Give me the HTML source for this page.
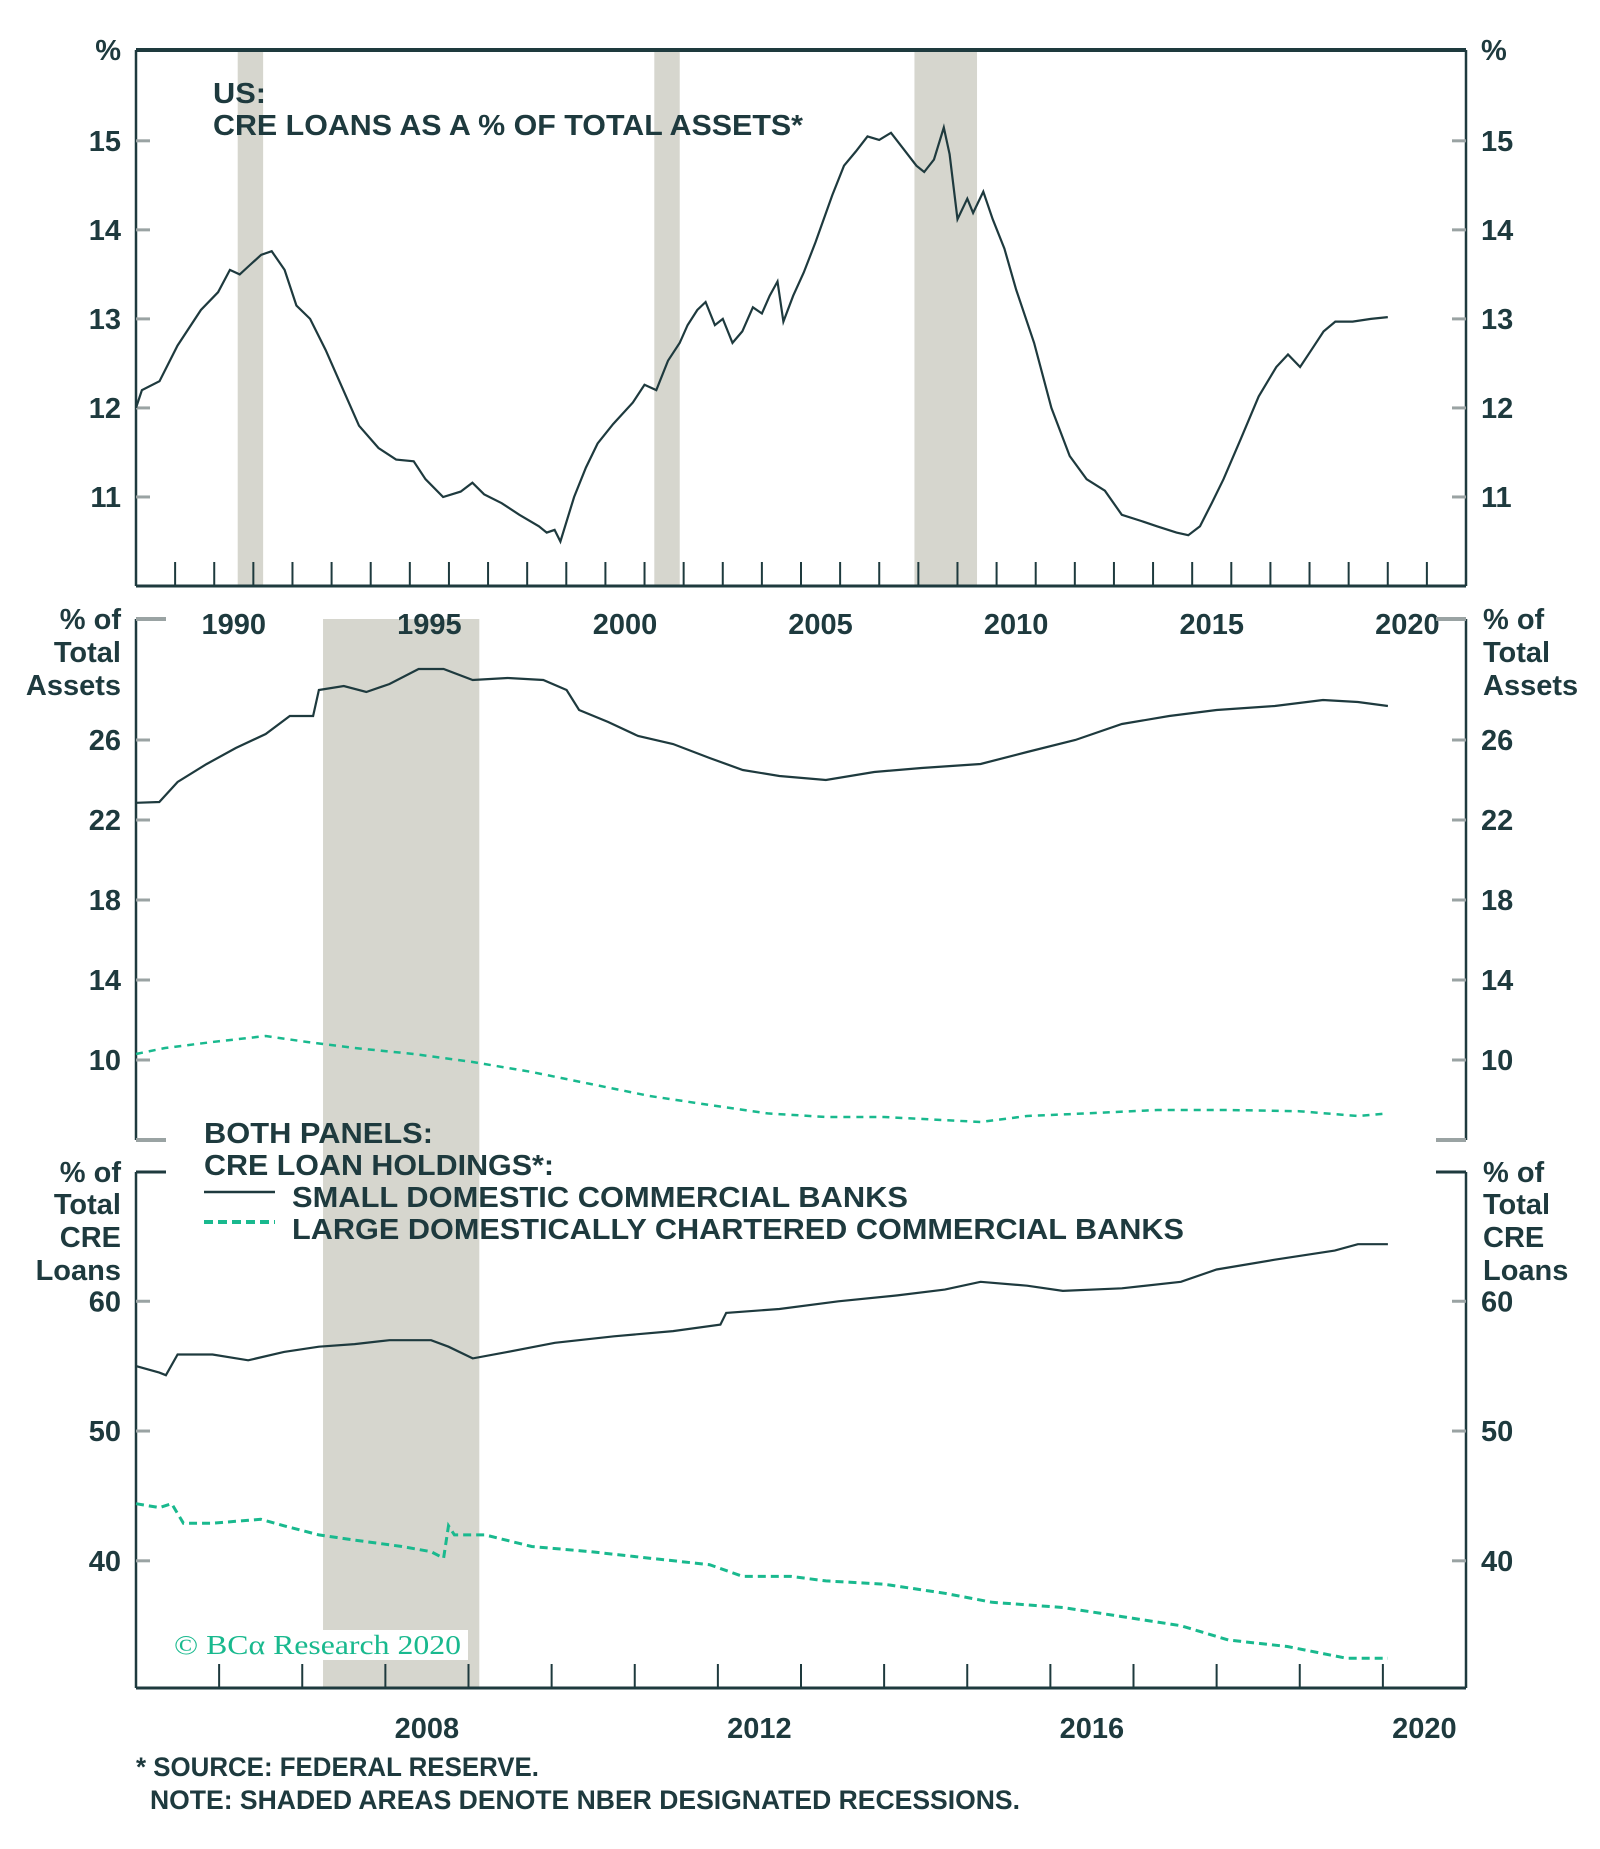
<!DOCTYPE html>
<html><head><meta charset="utf-8"><style>
html,body{margin:0;padding:0;background:#fff;}
svg{display:block;font-family:"Liberation Sans",sans-serif;}
.t{font-weight:bold;fill:#1e3a3e;}
</style></head><body>
<svg id="c" width="1600" height="1849" viewBox="0 0 1600 1849"></svg>
<script>
// ---- data ----
const topYears=[1988.0,1988.15,1988.6,1989.06,1989.66,1990.1,1990.4,1990.65,1990.9,1991.2,1991.47,1991.8,1992.1,1992.45,1992.85,1993.3,1993.7,1994.2,1994.65,1995.1,1995.4,1995.85,1996.3,1996.6,1996.9,1997.35,1997.8,1998.3,1998.5,1998.7,1998.85,1999.2,1999.5,1999.8,2000.2,2000.7,2001.0,2001.3,2001.6,2001.9,2002.1,2002.35,2002.56,2002.8,2003.0,2003.25,2003.5,2003.77,2004.0,2004.2,2004.4,2004.55,2004.8,2005.07,2005.37,2005.8,2006.1,2006.4,2006.7,2007.0,2007.3,2007.6,2007.95,2008.15,2008.4,2008.65,2008.8,2009.0,2009.25,2009.4,2009.66,2009.9,2010.2,2010.5,2010.96,2011.4,2011.87,2012.3,2012.77,2013.2,2013.7,2014.1,2014.6,2014.9,2015.2,2015.5,2015.8,2016.25,2016.7,2017.15,2017.45,2017.76,2018.06,2018.36,2018.66,2019.1,2019.57,2020.0];
const topVals=[12.0,12.2,12.3,12.7,13.1,13.3,13.55,13.5,13.6,13.72,13.76,13.55,13.15,13.0,12.65,12.2,11.8,11.55,11.42,11.4,11.2,11.0,11.06,11.16,11.03,10.93,10.8,10.67,10.6,10.63,10.5,11.0,11.33,11.6,11.82,12.06,12.26,12.2,12.53,12.73,12.93,13.1,13.19,12.93,13.0,12.73,12.86,13.13,13.06,13.26,13.42,12.97,13.26,13.52,13.86,14.39,14.72,14.88,15.05,15.01,15.09,14.92,14.72,14.65,14.79,15.15,14.85,14.12,14.35,14.19,14.43,14.12,13.79,13.33,12.73,12.0,11.46,11.2,11.07,10.8,10.73,10.67,10.6,10.57,10.67,10.93,11.2,11.66,12.13,12.46,12.6,12.46,12.66,12.86,12.97,12.97,13.0,13.02];
const midSmallYears=[2005.0,2005.28,2005.5,2005.85,2006.2,2006.56,2006.85,2007.13,2007.2,2007.5,2007.77,2008.05,2008.4,2008.7,2009.05,2009.47,2009.9,2010.18,2010.33,2010.68,2011.04,2011.46,2011.9,2012.3,2012.74,2013.3,2013.88,2014.45,2015.16,2015.72,2016.3,2016.86,2017.43,2018.0,2018.7,2019.28,2019.7,2020.06];
const midSmallVals=[22.86,22.9,23.9,24.8,25.6,26.3,27.2,27.2,28.5,28.7,28.4,28.8,29.55,29.55,29.0,29.1,29.0,28.5,27.5,26.9,26.2,25.8,25.1,24.5,24.2,24.0,24.4,24.6,24.8,25.4,26.0,26.8,27.2,27.5,27.7,28.0,27.9,27.7];
const midLargeYears=[2005.0,2005.35,2005.92,2006.56,2007.06,2007.63,2008.34,2009.05,2009.76,2010.47,2011.18,2011.9,2012.6,2013.3,2014.0,2014.7,2015.16,2015.72,2016.43,2017.29,2018.14,2018.99,2019.7,2020.06];
const midLargeVals=[10.3,10.6,10.9,11.2,10.9,10.6,10.3,9.9,9.4,8.8,8.2,7.75,7.33,7.15,7.15,7.0,6.9,7.2,7.33,7.5,7.5,7.44,7.2,7.33];
const botSmallYears=[2005.0,2005.28,2005.36,2005.5,2005.92,2006.35,2006.78,2007.2,2007.63,2008.05,2008.55,2008.76,2009.05,2009.47,2010.04,2010.75,2011.46,2012.03,2012.1,2012.74,2013.45,2014.16,2014.73,2015.16,2015.72,2016.15,2016.86,2017.57,2018.0,2018.7,2019.42,2019.7,2020.06];
const botSmallVals=[55.0,54.5,54.3,55.9,55.9,55.45,56.1,56.5,56.7,57.0,57.0,56.5,55.6,56.1,56.8,57.3,57.7,58.2,59.1,59.4,60.0,60.45,60.9,61.5,61.2,60.8,61.0,61.5,62.45,63.2,63.9,64.4,64.4];
const botLargeYears=[2005.0,2005.28,2005.43,2005.57,2005.92,2006.5,2006.78,2007.2,2007.63,2008.2,2008.55,2008.7,2008.76,2008.83,2009.2,2009.76,2010.47,2011.18,2011.9,2012.3,2012.88,2013.3,2014.0,2014.73,2015.3,2016.15,2016.86,2017.57,2018.14,2018.85,2019.56,2020.06];
const botLargeVals=[44.4,44.1,44.4,42.9,42.9,43.2,42.7,42.0,41.6,41.1,40.7,40.2,42.7,42.0,42.0,41.1,40.7,40.2,39.7,38.8,38.8,38.45,38.2,37.5,36.8,36.4,35.7,35.0,33.9,33.4,32.5,32.5];
const topRecStart=[1990.6,2001.25,2007.9];
const topRecEnd=[1991.25,2001.9,2009.5];
const botRecStart=[2007.25];
const botRecEnd=[2009.13];
const topYTicks=[11,12,13,14,15];
const midYTicks=[10,14,18,22,26];
const botYTicks=[40,50,60];
const topXLabels=[1990,1995,2000,2005,2010,2015,2020];
const botXLabels=[2008,2012,2016,2020];

// ---- layout ----
const L=136,R=1466;
const NS="http://www.w3.org/2000/svg";
const svg=document.getElementById('c');
function el(tag,attrs,parent){const e=document.createElementNS(NS,tag);for(const k in attrs)e.setAttribute(k,attrs[k]);(parent||svg).appendChild(e);return e;}
function txt(s,x,y,anchor,size,len){const e=el('text',{x:x,y:y,'text-anchor':anchor,'font-size':size,'class':'t'});if(len){e.setAttribute('textLength',len);e.setAttribute('lengthAdjust','spacingAndGlyphs');}e.textContent=s;return e;}
const xTop=v=>L+(v-1988)/(2022-1988)*(R-L);
const yTop=v=>586-(v-10)/(16.02-10)*(586-50);
const xBot=v=>L+(v-2005)/(2021-2005)*(R-L);
const yMid=v=>1140-(v-6)/(32.05-6)*(1140-619);
const yBot=v=>1688-(v-30.2)/(69.96-30.2)*(1688-1172);
const DARK="#1e3a3e",GREEN="#19b98e",SHADE="#d6d6ce",TICK="#9aa3a3";
const FS=29;

// shading
for(let i=0;i<topRecStart.length;i++){
 const r=el('rect',{x:xTop(topRecStart[i]),y:50,width:xTop(topRecEnd[i])-xTop(topRecStart[i]),height:536,fill:SHADE});
 
 
}
for(let i=0;i<botRecStart.length;i++){
 const r=el('rect',{x:xBot(botRecStart[i]),y:619,width:xBot(botRecEnd[i])-xBot(botRecStart[i]),height:1069,fill:SHADE});
 
 
}

// axes top panel
el('line',{x1:L,y1:50,x2:R,y2:50,stroke:DARK,'stroke-width':4});
el('line',{x1:L,y1:586,x2:R,y2:586,stroke:DARK,'stroke-width':3});
el('line',{x1:L,y1:50,x2:L,y2:586,stroke:DARK,'stroke-width':2.5});
el('line',{x1:R,y1:50,x2:R,y2:586,stroke:DARK,'stroke-width':2.5});
for(let yr=1989;yr<=2021;yr++){el('line',{x1:xTop(yr),y1:586,x2:xTop(yr),y2:562,stroke:DARK,'stroke-width':2});}
topYTicks.forEach(v=>{
 el('line',{x1:L,y1:yTop(v),x2:L+14,y2:yTop(v),stroke:TICK,'stroke-width':3});
 el('line',{x1:R-14,y1:yTop(v),x2:R,y2:yTop(v),stroke:TICK,'stroke-width':3});
 const a=txt(String(v),121,yTop(v)+10,'end',FS);
 const b=txt(String(v),1481,yTop(v)+10,'start',FS);
});
txt('%',121,60,'end',FS);txt('%',1481,60,'start',FS);
topXLabels.forEach(v=>{const a=txt(String(v),xTop(v+0.5),634,'middle',FS);});

// mid panel axes
el('line',{x1:L,y1:619,x2:L,y2:1140,stroke:DARK,'stroke-width':2.5});
el('line',{x1:R,y1:619,x2:R,y2:1140,stroke:DARK,'stroke-width':2.5});
el('line',{x1:L,y1:619,x2:L+30,y2:619,stroke:TICK,'stroke-width':4});
el('line',{x1:R-30,y1:619,x2:R,y2:619,stroke:TICK,'stroke-width':4});
el('line',{x1:L,y1:1140,x2:L+30,y2:1140,stroke:TICK,'stroke-width':4});
el('line',{x1:R-30,y1:1140,x2:R,y2:1140,stroke:TICK,'stroke-width':4});
midYTicks.forEach(v=>{
 el('line',{x1:L,y1:yMid(v),x2:L+14,y2:yMid(v),stroke:TICK,'stroke-width':3});
 el('line',{x1:R-14,y1:yMid(v),x2:R,y2:yMid(v),stroke:TICK,'stroke-width':3});
 const a=txt(String(v),121,yMid(v)+10,'end',FS);
 const b=txt(String(v),1481,yMid(v)+10,'start',FS);
});
[['% of',629],['Total',662],['Assets',695]].forEach(p=>{txt(p[0],121,p[1],'end',FS);txt(p[0],1483,p[1],'start',FS);});

// bottom panel axes
el('line',{x1:L,y1:1172,x2:L,y2:1688,stroke:DARK,'stroke-width':2.5});
el('line',{x1:R,y1:1172,x2:R,y2:1688,stroke:DARK,'stroke-width':2.5});
el('line',{x1:L,y1:1172,x2:L+30,y2:1172,stroke:DARK,'stroke-width':3});
el('line',{x1:R-30,y1:1172,x2:R,y2:1172,stroke:DARK,'stroke-width':3});
el('line',{x1:L,y1:1688,x2:R,y2:1688,stroke:DARK,'stroke-width':3});
for(let yr=2006;yr<=2020;yr++){el('line',{x1:xBot(yr),y1:1688,x2:xBot(yr),y2:1664,stroke:DARK,'stroke-width':2});}
botYTicks.forEach(v=>{
 el('line',{x1:L,y1:yBot(v),x2:L+14,y2:yBot(v),stroke:TICK,'stroke-width':3});
 el('line',{x1:R-14,y1:yBot(v),x2:R,y2:yBot(v),stroke:TICK,'stroke-width':3});
 const a=txt(String(v),121,yBot(v)+10,'end',FS);
 const b=txt(String(v),1481,yBot(v)+10,'start',FS);
});
[['% of',1182],['Total',1214],['CRE',1247],['Loans',1280]].forEach(p=>{txt(p[0],121,p[1],'end',FS);txt(p[0],1483,p[1],'start',FS);});
botXLabels.forEach(v=>{const a=txt(String(v),xBot(v+0.5),1738,'middle',FS);});

// series
function path(xs,ys,fx,fy){return xs.map((x,i)=>(i?'L':'M')+fx(x).toFixed(1)+','+fy(ys[i]).toFixed(1)).join('');}
let p;
p=el('path',{d:path(topYears,topVals,xTop,yTop),fill:'none',stroke:DARK,'stroke-width':2.2});


p=el('path',{d:path(midSmallYears,midSmallVals,xBot,yMid),fill:'none',stroke:DARK,'stroke-width':2.2});


p=el('path',{d:path(midLargeYears,midLargeVals,xBot,yMid),fill:'none',stroke:GREEN,'stroke-width':2.5,'stroke-dasharray':'7 6'});


p=el('path',{d:path(botSmallYears,botSmallVals,xBot,yBot),fill:'none',stroke:DARK,'stroke-width':2.2});


p=el('path',{d:path(botLargeYears,botLargeVals,xBot,yBot),fill:'none',stroke:GREEN,'stroke-width':3,'stroke-dasharray':'8 5'});



// titles & legend
txt('US:',213,103,'start',FS,53);
txt('CRE LOANS AS A % OF TOTAL ASSETS*',213,135,'start',FS,590);
txt('BOTH PANELS:',204,1143,'start',FS,229);
txt('CRE LOAN HOLDINGS*:',204,1175,'start',FS,350);
el('line',{x1:204,y1:1192,x2:275,y2:1192,stroke:DARK,'stroke-width':2.5});
txt('SMALL DOMESTIC COMMERCIAL BANKS',292,1207,'start',FS,616);
el('line',{x1:204,y1:1222,x2:275,y2:1222,stroke:GREEN,'stroke-width':4,'stroke-dasharray':'9 5'});
txt('LARGE DOMESTICALLY CHARTERED COMMERCIAL BANKS',292,1239,'start',FS,892);
el('rect',{x:170,y:1630,width:298,height:30,fill:'#fff'});
const cp=el('text',{x:174,y:1654,'font-size':27,fill:GREEN,'font-family':'"Liberation Serif",serif',textLength:287,lengthAdjust:'spacingAndGlyphs'});
cp.textContent='© BCα Research 2020';


txt('* SOURCE: FEDERAL RESERVE.',136,1776,'start',27,403);
txt('NOTE: SHADED AREAS DENOTE NBER DESIGNATED RECESSIONS.',150,1809,'start',27,870);
</script>
</body></html>
